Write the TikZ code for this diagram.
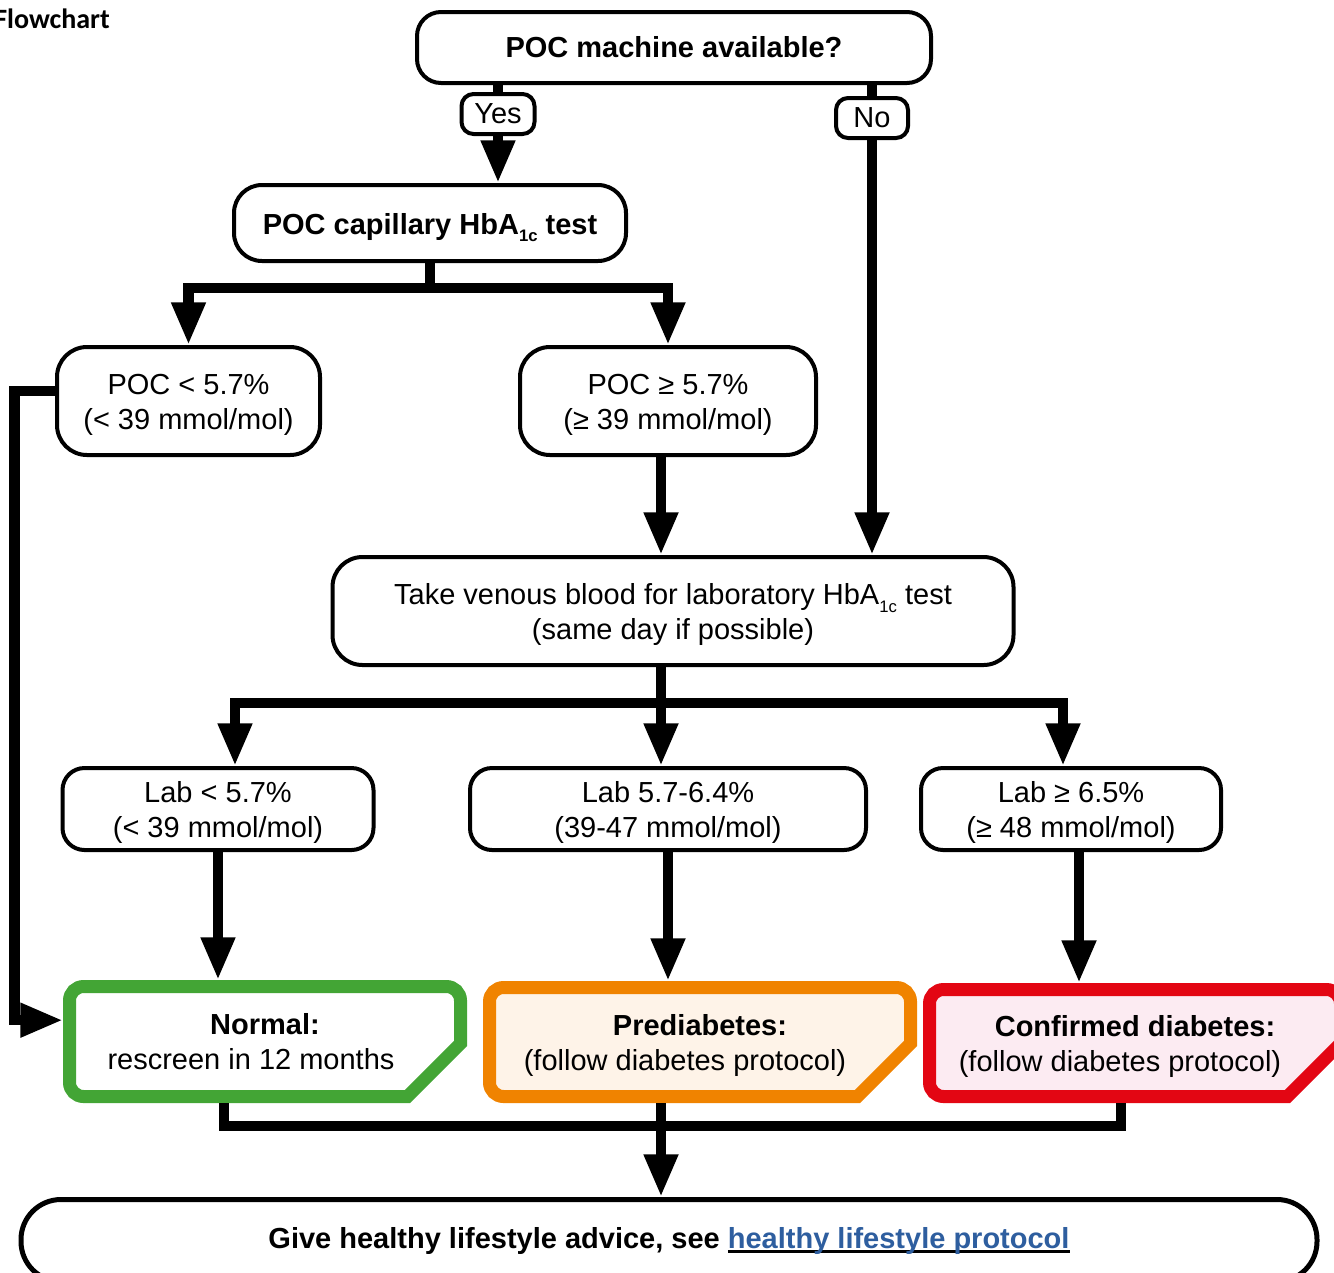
\documentclass[tikz,border=0pt]{standalone}
\usepackage{fontspec}
\setmainfont{Liberation Sans}
\newfontfamily\titlefont{Carlito}
\usetikzlibrary{arrows.meta,calc,backgrounds}
\definecolor{okgreen}{HTML}{43A535}
\definecolor{warnorange}{HTML}{F08300}
\definecolor{alertred}{HTML}{E30613}
\definecolor{predfill}{HTML}{FEF3E8}
\definecolor{conffill}{HTML}{FCEBF2}
\definecolor{linkblue}{HTML}{2E5E9F}
\newcommand\fsz{\fontsize{21.75pt}{26.25pt}\selectfont}
\newcommand\dn{\rule{0pt}{21.5pt}}
\newcommand\lowsub[1]{\smash{\raisebox{-5.5pt}{\fontsize{12.5pt}{12.5pt}\selectfont #1}}}
\newcommand\myul[1]{\setbox0=\hbox{#1}\rlap{\rule[-3.4pt]{\wd0}{1.6pt}}\box0}
\newcommand\outcomebox[3]{%
  \path[draw=#2, fill=#3, line width=9.75pt]
   let \p1=([shift={(4.875pt,-4.875pt)}]#1.north west),
       \p2=([shift={(-4.875pt,4.875pt)}]#1.south east) in
   (\x1+10.5pt,\y1) -- (\x2-10.5pt,\y1)
   arc[start angle=90,end angle=0,radius=10.5pt]
   -- (\x2,\y2+39.75pt) -- (\x2-39.75pt,\y2) -- (\x1+10.5pt,\y2)
   arc[start angle=270,end angle=180,radius=10.5pt]
   -- (\x1,\y1-10.5pt)
   arc[start angle=180,end angle=90,radius=10.5pt] -- cycle;}
\tikzset{
  box/.style={draw, line width=3pt, rounded corners=#1, align=center,
              inner sep=0pt, font=\fsz, fill=white},
  box/.default=18pt,
  outcome/.style={draw=none, inner sep=0pt, outer sep=4.875pt,
                  align=center, font=\fsz},
  conn/.style={line width=7.75pt},
  arr/.style={conn, -{Triangle[width=24pt,length=32pt]}}
}
\begin{document}
\begin{tikzpicture}[x=0.75pt,y=-0.75pt]
\useasboundingbox (0,0) rectangle (1334,1272);

\node[anchor=base west, inner sep=0pt,
      font={\titlefont\bfseries\fontsize{21pt}{25pt}\selectfont}]
      (title) at (-6,28) {Flowchart};

% process boxes
\node[box=18pt, minimum width=385.5pt, minimum height=53.25pt] (top) at (674,47.5)
  {\bfseries POC machine available?};
\node[box=9pt, minimum width=54.75pt, minimum height=30pt] (yes) at (498,114) {Yes};
\node[box=9pt, minimum width=54pt, minimum height=30pt] (no) at (872,118) {No};
\node[box=21pt, minimum width=294pt, minimum height=57pt] (cap) at (430,223)
  {\dn\bfseries POC capillary HbA\lowsub{1c} test};
\node[box=22.5pt, minimum width=197.25pt, minimum height=81pt] (pocl) at (188.5,401)
  {\dn POC < 5.7\%\\(< 39 mmol/mol)};
\node[box=22.5pt, minimum width=222pt, minimum height=81pt] (pocg) at (668,401)
  {\dn POC ≥ 5.7\%\\(≥ 39 mmol/mol)};
\node[box=22.5pt, minimum width=510.75pt, minimum height=81pt] (ven) at (673,611)
  {\dn Take venous blood for laboratory HbA\lowsub{1c} test\\(same day if possible)};
\node[box=16.5pt, minimum width=233.25pt, minimum height=61.5pt] (labl) at (218,809)
  {\dn Lab < 5.7\%\\(< 39 mmol/mol)};
\node[box=16.5pt, minimum width=297pt, minimum height=61.5pt] (labm) at (668,809)
  {\dn Lab 5.7-6.4\%\\(39-47 mmol/mol)};
\node[box=16.5pt, minimum width=225pt, minimum height=61.5pt] (labh) at (1071,809)
  {\dn Lab ≥ 6.5\%\\(≥ 48 mmol/mol)};
\node[box=30pt, line width=3.75pt, minimum width=972pt, minimum height=61.5pt] (bottom) at (669,1240.5)
  {\bfseries Give healthy lifestyle advice, see \myul{\textcolor{linkblue}{healthy lifestyle protocol}}};

% outcome boxes
\node[outcome, minimum width=293.25pt, minimum height=82.5pt] (normal) at (265,1041.5)
  {\textbf{Normal:}\\rescreen in 12 months\hspace*{21pt}};
\node[outcome, minimum width=315.75pt, minimum height=81.75pt] (pred) at (700,1042)
  {\dn\textbf{Prediabetes:}\\(follow diabetes protocol)\hspace*{22.5pt}};
\node[outcome, minimum width=308.25pt, minimum height=80.25pt] (conf) at (1135,1043)
  {\dn\textbf{Confirmed diabetes:}\\(follow diabetes protocol)\hspace*{22.5pt}};
\begin{pgfonlayer}{background}
  \outcomebox{normal}{okgreen}{white}
  \outcomebox{pred}{warnorange}{predfill}
  \outcomebox{conf}{alertred}{conffill}
\end{pgfonlayer}

% helper coordinates
\coordinate (j1) at (430,288);
\coordinate (spine) at (661,500);
\coordinate (j2) at (661,703);
\coordinate (xa) at (235,0);
\coordinate (xc) at (1063,0);
\coordinate (xd) at (1079,0);
\coordinate (xl) at (14.5,700);
\coordinate (xn) at (224,0);
\coordinate (xr) at (1121,0);
\coordinate (j3) at (661,1126);

% connectors
\draw[conn] (top.south -| yes) -- (yes.north);
\draw[arr] (yes.south) -- (yes.south |- cap.north);
\draw[conn] (top.south -| no) -- (no.north);
\draw[arr] (no.south) -- (no.south |- ven.north);

\draw[conn] (cap.south) -- (j1);
\draw[arr] (j1) -| (pocl.north);
\draw[arr] (j1) -| (pocg.north);

\draw[arr] (pocg.south -| spine) -- (ven.north -| spine);

\draw[conn] (ven.south -| spine) -- (j2);
\draw[arr] (j2) -| (labl.north -| xa);
\draw[arr] (j2) -- (labm.north -| spine);
\draw[arr] (j2) -| (labh.north -| xc);

\draw[arr] (labl.south) -- (labl.south |- normal.north);
\draw[arr] (labm.south) -- (labm.south |- pred.north);
\draw[arr] (labh.south -| xd) -- (conf.north -| xd);

\draw[arr] ([yshift=7.5pt]pocl.west) -| (xl) |- ([yshift=16pt]normal.west);

\draw[conn] (normal.south -| xn) |- (j3) -| (conf.south -| xr);
\draw[arr] (pred.south -| spine) -- (bottom.north -| spine);
\end{tikzpicture}
\end{document}
